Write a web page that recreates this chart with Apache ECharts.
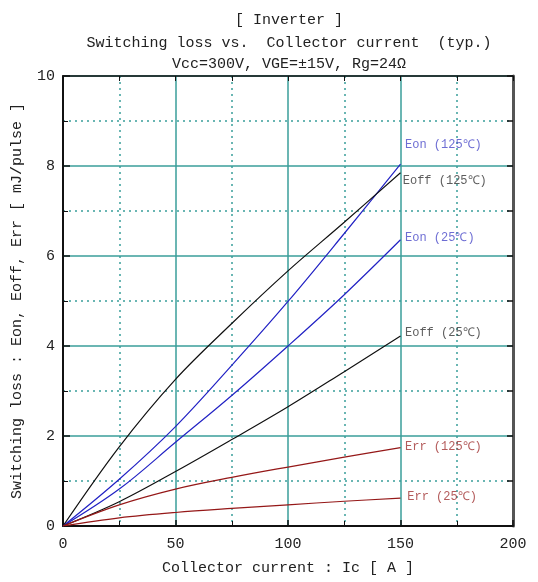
<!DOCTYPE html>
<html><head><meta charset="utf-8">
<script src="https://cdn.jsdelivr.net/npm/echarts@6/dist/echarts.min.js"></script>
<style>html,body{margin:0;padding:0;background:#fff}#c{width:538px;height:582px}</style>
</head><body><div id="c"></div>
<script>
// Collector current [A]
const current = [0, 25, 50, 75, 100, 125, 150];
// Switching loss [mJ/pulse]
const eon125  = [0, 1.04, 2.21, 3.57, 4.99, 6.50, 8.04];
const eoff125 = [0, 1.76, 3.26, 4.50, 5.67, 6.75, 7.85];
const eon25   = [0, 0.82, 1.86, 2.90, 4.00, 5.14, 6.36];
const eoff25  = [0, 0.54, 1.21, 1.92, 2.65, 3.43, 4.22];
const err125  = [0, 0.47, 0.82, 1.08, 1.31, 1.53, 1.74];
const err25   = [0, 0.18, 0.30, 0.39, 0.47, 0.55, 0.62];
const seriesNames = ['Eon (125℃)', 'Eoff (125℃)', 'Eon (25℃)', 'Eoff (25℃)', 'Err (125℃)', 'Err (25℃)'];
// label anchor points (current, loss)
const labelAnchorX = [152, 151, 152, 152, 152, 153];
const labelAnchorY = [8.48, 7.67, 6.40, 4.29, 1.76, 0.64];
const xTicks = [0, 50, 100, 150, 200];
const yTicks = [0, 2, 4, 6, 8, 10];

const FONT = 'Liberation Mono';
const lineColors = ['#2222c4', '#111111', '#2222c4', '#111111', '#951818', '#951818'];
const labelColors = ['#4848c8', '#333333', '#4848c8', '#333333', '#a03232', '#a03232'];
const teal = '#3a9e9a';
const allData = [eon125, eoff125, eon25, eoff25, err125, err25];

const series = allData.map((d, i) => ({
  type: 'line', name: seriesNames[i], xAxisIndex: 0, yAxisIndex: 0,
  data: current.map((c, k) => [c, d[k]]),
  smooth: 0.35, symbol: 'none', z: 5,
  lineStyle: { color: lineColors[i], width: 1.2 }
}));
series.push({
  type: 'scatter', xAxisIndex: 0, yAxisIndex: 0, symbolSize: 0, z: 6,
  data: seriesNames.map((n, i) => ({
    value: [labelAnchorX[i], labelAnchorY[i]],
    label: { show: true, position: 'right', distance: 0, formatter: n,
      color: labelColors[i], fontFamily: FONT, fontSize: 12 }
  })),
  silent: true
});

const chart = echarts.init(document.getElementById('c'), null, { renderer: 'canvas' });
chart.setOption({
  animation: false,
  backgroundColor: '#fff',
  title: [
    { text: '[ Inverter ]', left: 284, top: 8, textAlign: 'center',
      textStyle: { fontFamily: FONT, fontSize: 15, fontWeight: 'normal', color: '#222' } },
    { text: 'Switching loss vs.  Collector current  (typ.)', left: 284, top: 31, textAlign: 'center',
      textStyle: { fontFamily: FONT, fontSize: 15, fontWeight: 'normal', color: '#222' } },
    { text: 'Vcc=300V, VGE=±15V, Rg=24Ω', left: 284, top: 52, textAlign: 'center',
      textStyle: { fontFamily: FONT, fontSize: 15, fontWeight: 'normal', color: '#222' } }
  ],
  grid: { left: 63, top: 76, width: 450, height: 450, containLabel: false },
  xAxis: [
    { type: 'value', position: 'bottom', min: xTicks[0], max: xTicks[xTicks.length - 1], interval: 50,
      name: 'Collector current : Ic [ A ]', nameLocation: 'middle', nameGap: 35,
      nameTextStyle: { fontFamily: FONT, fontSize: 15, color: '#222' },
      axisLine: { show: true, onZero: false, lineStyle: { color: '#111', width: 2 } },
      axisTick: { show: true, inside: true, length: 6, lineStyle: { color: '#111', width: 1.5 } },
      minorTick: { show: true, splitNumber: 2, length: 5, lineStyle: { color: '#111' } },
      axisLabel: { fontFamily: FONT, fontSize: 15, color: '#222', margin: 11 },
      splitLine: { show: true, lineStyle: { color: teal, width: 1.5 } },
      minorSplitLine: { show: true, lineStyle: { color: teal, width: 1.5, type: [2, 4] } }
    },
    { type: 'value', position: 'top', min: 0, max: 200, interval: 25,
      axisLine: { show: true, onZero: false, lineStyle: { color: '#111', width: 1.5 } },
      axisTick: { show: true, inside: true, length: 5, lineStyle: { color: '#111' } },
      axisLabel: { show: false }, splitLine: { show: false }
    }
  ],
  yAxis: [
    { type: 'value', position: 'left', min: yTicks[0], max: yTicks[yTicks.length - 1], interval: 2,
      name: 'Switching loss : Eon, Eoff, Err [ mJ/pulse ]', nameLocation: 'middle', nameGap: 38, nameRotate: 90,
      nameTextStyle: { fontFamily: FONT, fontSize: 15, color: '#222' },
      axisLine: { show: true, onZero: false, lineStyle: { color: '#111', width: 2 } },
      axisTick: { show: true, inside: true, length: 7, lineStyle: { color: '#111', width: 1.5 } },
      minorTick: { show: true, splitNumber: 2, length: 5, lineStyle: { color: '#111' } },
      axisLabel: { fontFamily: FONT, fontSize: 15, color: '#222', margin: 8 },
      splitLine: { show: true, lineStyle: { color: teal, width: 1.5 } },
      minorSplitLine: { show: true, lineStyle: { color: teal, width: 1.5, type: [2, 4] } }
    },
    { type: 'value', position: 'right', min: 0, max: 10, interval: 1,
      axisLine: { show: true, onZero: false, lineStyle: { color: '#555', width: 3 } },
      axisTick: { show: true, inside: true, length: 6, lineStyle: { color: '#111', width: 1.5 } },
      axisLabel: { show: false }, splitLine: { show: false }
    }
  ],
  series: series
});
</script></body></html>
